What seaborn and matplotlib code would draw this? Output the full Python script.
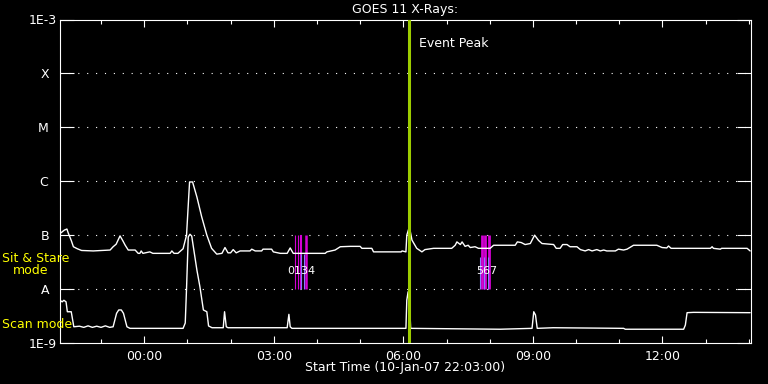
import numpy as np
import pandas as pd
import matplotlib
matplotlib.use("Agg")
import matplotlib.pyplot as plt
import seaborn as sns
from matplotlib.ticker import NullLocator

# ============================
# Dados (horas desde 10-Jan-07 22:03)
# ============================
long_t = [0.00, 0.10, 0.16, 0.19, 0.26, 0.31, 0.40, 0.50, 0.77, 1.16, 1.23, 1.30, 1.39, 1.45,
          1.51, 1.58, 1.74, 1.81, 1.85, 1.88, 1.92, 2.08, 2.15, 2.55, 2.59, 2.64, 2.73, 2.85,
          2.93, 3.00, 3.07, 3.17, 3.28, 3.40, 3.51, 3.63, 3.75, 3.82, 3.89, 3.95, 4.01, 4.08,
          4.17, 4.40, 4.44, 4.52, 4.67, 4.70, 4.90, 4.94, 5.10, 5.26, 5.33, 5.40, 6.14, 6.18,
          6.37, 6.49, 6.72, 6.95, 6.99, 7.22, 7.26, 7.90, 7.92, 8.01, 8.03, 8.09, 8.15, 8.26,
          8.38, 8.45, 8.65, 9.07, 9.15, 9.19, 9.27, 9.31, 9.38, 9.45, 9.50, 9.61, 9.69, 9.96,
          10.04, 10.54, 10.59, 10.68, 10.77, 10.89, 10.99, 11.08, 11.16, 11.43, 11.49, 11.58,
          11.64, 11.74, 11.81, 11.97, 12.05, 12.16, 12.24, 12.32, 12.43, 12.51, 12.59, 12.66,
          12.86, 12.93, 13.05, 13.13, 13.28, 13.82, 13.94, 14.05, 14.09, 14.15, 15.06, 15.10,
          15.13, 15.29, 15.32, 15.91, 15.98]
long_flux = [1.07e-7, 1.24e-7, 1.30e-7, 1.10e-7, 8.0e-8, 6.1e-8, 5.6e-8, 5.2e-8, 5.1e-8, 5.3e-8,
             6.1e-8, 6.8e-8, 9.7e-8, 8.0e-8, 6.5e-8, 5.3e-8, 5.3e-8, 4.6e-8, 4.6e-8, 5.1e-8,
             4.6e-8, 4.9e-8, 4.6e-8, 4.6e-8, 5.1e-8, 4.6e-8, 4.6e-8, 5.6e-8, 1.0e-7, 9.7e-7,
             9.7e-7, 5.1e-7, 2.2e-7, 1.0e-7, 5.7e-8, 4.45e-8, 4.6e-8, 5.9e-8, 4.7e-8, 4.7e-8,
             5.4e-8, 4.7e-8, 5.1e-8, 5.1e-8, 5.5e-8, 5.1e-8, 5.1e-8, 5.5e-8, 5.5e-8, 4.9e-8,
             4.6e-8, 4.6e-8, 5.8e-8, 4.6e-8, 4.6e-8, 4.9e-8, 5.3e-8, 6.1e-8, 6.2e-8, 6.2e-8,
             5.7e-8, 5.7e-8, 4.9e-8, 4.9e-8, 5.1e-8, 4.9e-8, 1.0e-7, 1.43e-7, 8.1e-8, 5.7e-8,
             4.9e-8, 5.4e-8, 5.7e-8, 5.7e-8, 6.5e-8, 7.5e-8, 6.7e-8, 7.5e-8, 6.2e-8, 6.5e-8,
             5.9e-8, 6.1e-8, 5.7e-8, 5.7e-8, 6.5e-8, 6.5e-8, 7.5e-8, 7.3e-8, 6.7e-8, 7.0e-8,
             1.0e-7, 8.0e-8, 7.0e-8, 6.7e-8, 5.7e-8, 5.7e-8, 6.7e-8, 6.7e-8, 6.1e-8, 6.1e-8,
             5.4e-8, 5.1e-8, 5.4e-8, 5.1e-8, 5.4e-8, 5.1e-8, 5.3e-8, 5.1e-8, 5.1e-8, 5.5e-8,
             5.3e-8, 5.5e-8, 6.5e-8, 6.5e-8, 5.9e-8, 5.8e-8, 6.3e-8, 5.7e-8, 5.7e-8, 6.1e-8,
             5.7e-8, 5.5e-8, 5.7e-8, 5.7e-8, 5.1e-8]

short_t = [0.00, 0.05, 0.09, 0.14, 0.17, 0.26, 0.32, 0.45, 0.55, 0.65, 0.75, 0.85, 0.95, 1.05,
           1.15, 1.23, 1.31, 1.36, 1.42, 1.47, 1.55, 1.62, 2.85, 2.90, 2.93, 2.97, 3.01, 3.05,
           3.17, 3.24, 3.32, 3.40, 3.44, 3.52, 3.78, 3.81, 3.85, 3.89, 5.26, 5.30, 5.33, 5.37,
           8.01, 8.03, 8.06, 8.10, 8.12, 10.19, 10.93, 10.97, 11.01, 11.05, 11.42, 13.05, 13.09,
           14.44, 14.48, 14.52, 14.67, 15.98]
short_flux = [6.2e-9, 5.8e-9, 6.2e-9, 5.8e-9, 3.8e-9, 3.8e-9, 2.0e-9, 2.05e-9, 1.95e-9, 2.08e-9,
              1.95e-9, 2.05e-9, 1.95e-9, 2.08e-9, 1.95e-9, 2.0e-9, 3.55e-9, 4.1e-9, 4.1e-9,
              3.55e-9, 2.0e-9, 1.87e-9, 1.87e-9, 2.35e-9, 1.03e-8, 9.3e-8, 1.04e-7, 9.6e-8,
              2.25e-8, 1.1e-8, 4.1e-9, 3.8e-9, 2.07e-9, 1.92e-9, 1.92e-9, 3.8e-9, 2.0e-9,
              1.92e-9, 1.92e-9, 3.4e-9, 2.0e-9, 1.87e-9, 1.87e-9, 6.25e-9, 8.9e-9, 4.1e-9,
              1.87e-9, 1.8e-9, 1.87e-9, 3.8e-9, 3.3e-9, 1.87e-9, 1.92e-9, 1.87e-9, 1.8e-9,
              1.8e-9, 2.15e-9, 3.65e-9, 3.7e-9, 3.65e-9]

peak_t = 8.07

grp1_t = [5.43, 5.51, 5.59, 5.70]
grp1_blue_t = [5.57, 5.66]
grp1_lbl = ["0", "1", "3", "4"]
grp2_t = [9.76, 9.85, 9.93]
grp2_blue_t = [9.72, 9.81, 9.90]
grp2_lbl = ["5", "6", "7"]

ylev = [1e-9, 1e-8, 1e-7, 1e-6, 1e-5, 1e-4, 1e-3]
ylab = ["1E-9", "A  ", "B  ", "C  ", "M  ", "X  ", "1E-3"]
xmaj = [1.95, 4.95, 7.95, 10.95, 13.95]
xlab = ["00:00", "03:00", "06:00", "09:00", "12:00"]

# ============================
# Estilo
# ============================
sns.set_theme(style="dark", rc={
    "figure.facecolor": "black", "axes.facecolor": "black",
    "axes.edgecolor": "white", "text.color": "white",
    "axes.labelcolor": "white", "xtick.color": "white", "ytick.color": "white",
})
plt.rcParams["font.family"] = ["DejaVu Sans"]

W, H = 768, 384
fig = plt.figure(figsize=(W / 100, H / 100), dpi=100)
ax = fig.add_axes([60 / W, 1 - 343 / H, 691 / W, 323.5 / H])
ax.set_yscale("log")

# marcas magenta / azul
ax.vlines(grp1_t, 1e-8, 1e-7, color="#d400d4", lw=[0.8, 0.8, 1.5, 1.8], zorder=2)
ax.vlines(grp2_t, 1e-8, 1e-7, color="#d400d4", lw=2.0, zorder=2)
ax.vlines(grp1_blue_t, 1e-8, 4.5e-8, color="#8c78ff", lw=0.8, zorder=2.5)
ax.vlines(grp2_blue_t, 1e-8, 4.0e-8, color="#8c78ff", lw=0.8, zorder=2.5)

# curvas GOES
sns.lineplot(x=long_t, y=long_flux, ax=ax, color="white", lw=1.0, estimator=None, sort=False, zorder=3)
sns.lineplot(x=short_t, y=short_flux, ax=ax, color="white", lw=1.0, estimator=None, sort=False, zorder=3)

# pico do evento
ax.axvline(peak_t, color="#9ccc00", lw=2.2, zorder=4)
ax.annotate("Event Peak", xy=(peak_t, 1e-3), xytext=(7.5, -17), textcoords="offset points",
            fontsize=9, color="white", va="center", ha="left")

# rótulos dos grupos (um texto por grupo)
ax.text(np.mean(grp1_t) + 0.04, 2.15e-8, "".join(grp1_lbl), fontsize=8, color="white",
        ha="center", va="center", zorder=5)
ax.text(np.mean(grp2_t) + 0.04, 2.15e-8, "".join(grp2_lbl), fontsize=8, color="white",
        ha="center", va="center", zorder=5)

# eixos
ax.set_xlim(0, 16)
ax.set_ylim(1e-9, 1e-3)
ax.set_yticks(ylev, ylab)
ax.yaxis.set_minor_locator(NullLocator())
ax.set_xticks(xmaj, xlab)
ax.set_xticks(np.arange(0.95, 16, 1.0), minor=True)
ax.tick_params(axis="y", which="major", direction="in", length=10, width=0.8,
               left=True, right=True, labelsize=9, pad=2)
ax.tick_params(axis="x", which="major", direction="in", length=5, width=0.8,
               bottom=True, top=True, labelsize=9, pad=5)
ax.tick_params(axis="x", which="minor", direction="in", length=3, width=0.8,
               bottom=True, top=True)
ax.grid(False)
for lv in ylev[1:-1]:
    ax.axhline(lv, color="white", lw=0.8, linestyle=(0, (1, 7)), zorder=1)
for sp in ax.spines.values():
    sp.set_color("white")
    sp.set_linewidth(0.8)

fig.text(405 / W, 1 - 10 / H, "GOES 11 X-Rays:", fontsize=9, ha="center", va="center")
fig.text(405 / W, 1 - 368 / H, "Start Time (10-Jan-07 22:03:00)", fontsize=9, ha="center", va="center")
fig.text(2 / W, 1 - 259 / H, "Sit & Stare", fontsize=9, color="yellow", ha="left", va="center")
fig.text(13 / W, 1 - 271 / H, "mode", fontsize=9, color="yellow", ha="left", va="center")
fig.text(2 / W, 1 - 324 / H, "Scan mode", fontsize=9, color="yellow", ha="left", va="center")

fig.savefig("out.png", dpi=100, facecolor="black")
